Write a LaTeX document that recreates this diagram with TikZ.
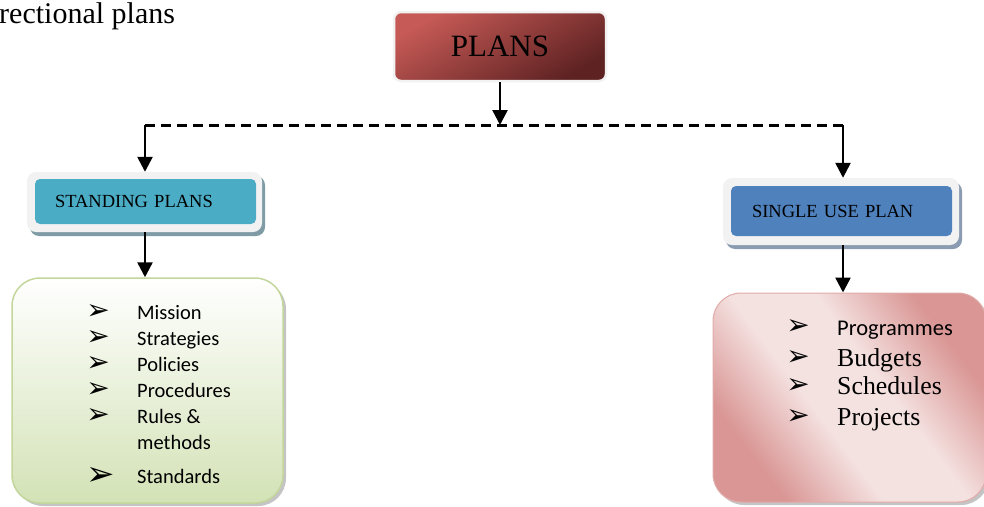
\documentclass[tikz,border=0pt]{standalone}
\usepackage{fontspec}
\setmainfont{Liberation Serif}
\newfontfamily\calib{Carlito}
\newfontfamily\djv{DejaVu Sans}
\usetikzlibrary{arrows.meta,shadows}
\definecolor{redA}{HTML}{C65A56}
\definecolor{redB}{HTML}{5E2222}
\definecolor{tealbox}{HTML}{4BACC6}
\definecolor{bluebox}{HTML}{4F81BD}
\definecolor{framecol}{HTML}{F2F2F2}
\definecolor{shadowA}{HTML}{7E9BA6}
\definecolor{shadowB}{HTML}{8A9BB2}
\definecolor{greenB}{HTML}{D3E2B6}
\definecolor{greenline}{HTML}{C3D69B}
\definecolor{pinkD}{HTML}{D99694}
\definecolor{pinkL}{HTML}{F4E2E1}
\definecolor{grayshadow}{HTML}{C4C4C4}
\pgfdeclareverticalshading{pinkband}{100bp}{color(0bp)=(pinkD); color(27bp)=(pinkD); color(43bp)=(pinkL); color(57bp)=(pinkL); color(73bp)=(pinkD); color(100bp)=(pinkD)}
\begin{document}
\begin{tikzpicture}[x=1pt,y=-1pt,
  conn/.style={line width=2.5pt,-{Triangle[length=15pt,width=15pt]}},
  dashline/.style={line width=3pt,dash pattern=on 10pt off 6pt},
  frame/.style={fill=framecol,rounded corners=9pt,inner sep=0pt,
    drop shadow={shadow xshift=3pt,shadow yshift=-4pt,fill=#1,opacity=1}},
  inbox/.style={rounded corners=5pt,minimum width=221pt,align=left,
    font=\fontsize{18.5}{20}\selectfont},
  plansbox/.style={rounded corners=7pt,minimum width=212pt,minimum height=69pt,
    draw=framecol,line width=2.5pt,top color=redA,bottom color=redB,
    shading angle=30,font=\fontsize{31}{34}\selectfont,inner sep=0pt},
  itemsans/.style={font=\calib\fontsize{20.5}{22}\selectfont,inner sep=0pt,anchor=base west},
  itemserif/.style={font=\fontsize{25.8}{27}\selectfont,inner sep=0pt,anchor=base west},
  bulletS/.style={font=\djv\fontsize{28}{30}\selectfont,inner sep=0pt},
  bulletL/.style={font=\djv\fontsize{34}{36}\selectfont,inner sep=0pt},
  titletext/.style={font=\fontsize{30}{32}\selectfont,inner sep=0pt,anchor=base west}
]
\useasboundingbox (0,0) rectangle (984,506);

% title fragment
\node[titletext] (title) at (-1,23.3) {rectional plans};

% top node
\node[plansbox] (plans) at (500,46.5) {PLANS};

% junction points on the dashed line
\coordinate (dl) at (145,125);
\coordinate (dm) at (500,125);
\coordinate (dr) at (843,125);

% standing plans
\node[frame=shadowA,minimum width=235pt,minimum height=60pt] (spf) at (144.5,202) {};
\node[inbox,fill=tealbox,minimum height=45pt,text width=181pt,inner xsep=20pt] (sp) at (145.5,201.5) {STANDING PLANS};

% single use plan
\node[frame=shadowB,minimum width=236pt,minimum height=67pt] (supf) at (841,211.5) {};
\node[inbox,fill=bluebox,minimum height=50pt,text width=179pt,inner xsep=21pt] (su) at (841.5,211) {SINGLE USE PLAN};

% green list box
\node[rounded corners=28pt,minimum width=271pt,minimum height=225pt,
  top color=white,bottom color=greenB,draw=greenline,line width=1.5pt,
  drop shadow={shadow xshift=3pt,shadow yshift=-3pt,fill=grayshadow,opacity=1}] (stand) at (147.5,390.5) {};

% pink list box
\node[rounded corners=28pt,minimum width=273pt,minimum height=209pt,
  shade,shading=pinkband,shading angle=127,
  draw=pinkD!80,line width=1pt,
  drop shadow={shadow xshift=3pt,shadow yshift=-3pt,fill=grayshadow,opacity=1}] (single) at (849.5,397.5) {};

% connectors
\draw[conn] (plans.south) -- (dm);
\draw[dashline] (dl) -- (dr);
\draw[conn] (dl) -- (dl |- spf.north);
\draw[conn] (dr) -- (dr |- supf.north);
\draw[conn] (dl |- spf.south) -- (dl |- stand.north);
\draw[conn] (dr |- supf.south) -- (dr |- single.north);

% left items
\foreach \t/\b [count=\i] in {Mission/319,Strategies/345,Policies/371,Procedures/397,Rules \&/423} {
  \node[itemsans] (lt\i) at (137,\b) {\t};
  \node[bulletS] (lb\i) at (98,\b-6.5) {➢};
}
\node[itemsans] (lt6) at (137,449) {methods};
\node[itemsans] (lt7) at (137,483) {Standards};
\node[bulletL] (lb7) at (100.5,476) {➢};

% right items
\node[itemsans,font=\calib\fontsize{22.5}{24}\selectfont] (rt1) at (837,335) {Programmes};
\node[bulletS] (rb1) at (798,327) {➢};
\foreach \t/\b [count=\i from 2] in {Budgets/366,Schedules/394,Projects/425} {
  \node[itemserif] (rt\i) at (837,\b) {\t};
  \node[bulletS] (rb\i) at (798,\b-7.5) {➢};
}
\end{tikzpicture}
\end{document}
